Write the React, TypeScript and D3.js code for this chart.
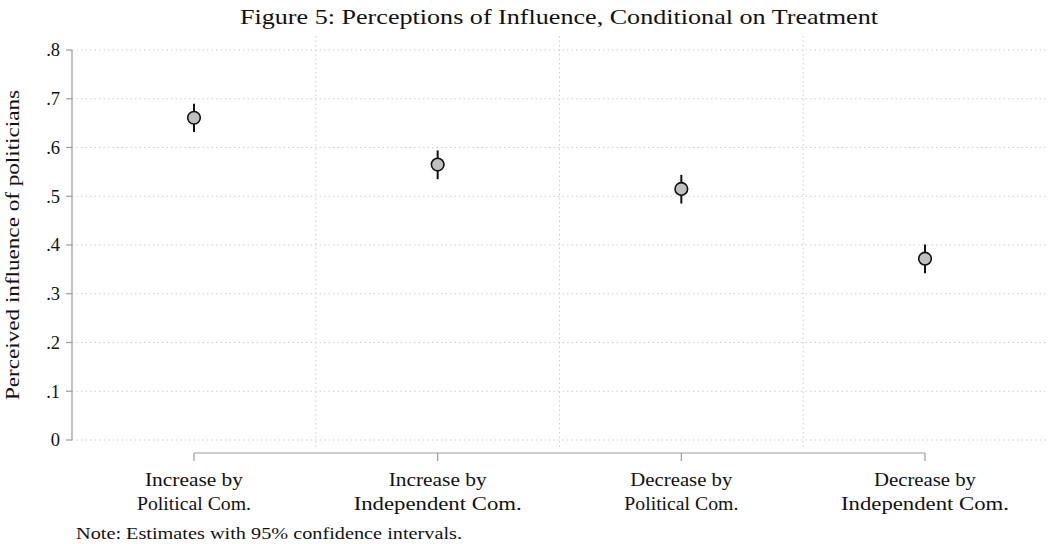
import * as d3 from "d3";
import React from "react";

const categories = [
  ["Increase by", "Political Com."],
  ["Increase by", "Independent Com."],
  ["Decrease by", "Political Com."],
  ["Decrease by", "Independent Com."],
];
const estimates = [0.661, 0.565, 0.515, 0.372];
const ciLow = [0.632, 0.535, 0.485, 0.342];
const ciHigh = [0.69, 0.594, 0.544, 0.401];
const yTicks = [0, 0.1, 0.2, 0.3, 0.4, 0.5, 0.6, 0.7, 0.8];

// widths of the text lines as they appear in the figure (Garamond-like face)
const lineWidths: Record<string, number> = {
  "Increase by": 98,
  "Decrease by": 102,
  "Political Com.": 114,
  "Independent Com.": 168,
};

const W = 1049,
  H = 544;
const font = "'Liberation Serif', 'DejaVu Serif', serif";

export default function App() {
  const keys = categories.map((c) => c.join(" "));

  const x = d3.scalePoint<string>().domain(keys).range([194, 925]);
  const y = d3.scaleLinear().domain([0, 0.8]).range([440, 50]);

  const tickFmt = (d: number) => (d === 0 ? "0" : d3.format(".1f")(d).replace(/^0/, ""));

  // vertical grid between categories
  const vGrid = keys.slice(0, -1).map((k, i) => ((x(k) as number) + (x(keys[i + 1]) as number)) / 2);

  return (
    <svg
      width={W}
      height={H}
      style={{ position: "absolute", left: 0, top: 0, background: "#fff" }}
      fontFamily={font}
    >
      <text
        x={559}
        y={24}
        textAnchor="middle"
        fontSize={21}
        fill="#111"
        textLength={638}
        lengthAdjust="spacingAndGlyphs"
      >
        Figure 5: Perceptions of Influence, Conditional on Treatment
      </text>

      {/* grid */}
      {yTicks.map((t) => (
        <line
          key={"h" + t}
          x1={72}
          x2={1047}
          y1={y(t)}
          y2={y(t)}
          stroke="#cfcfcf"
          strokeWidth={1}
          strokeDasharray="1.5,3"
        />
      ))}
      {vGrid.map((gx, i) => (
        <line
          key={"v" + i}
          x1={gx}
          x2={gx}
          y1={36}
          y2={448}
          stroke="#cfcfcf"
          strokeWidth={1}
          strokeDasharray="1.5,3"
        />
      ))}

      {/* y axis */}
      <line x1={72} x2={72} y1={y(0.8)} y2={y(0)} stroke="#9a9a9a" strokeWidth={1.2} />
      {yTicks.map((t) => (
        <g key={"yt" + t}>
          <line x1={66} x2={72} y1={y(t)} y2={y(t)} stroke="#9a9a9a" strokeWidth={1.2} />
          <text x={60} y={y(t)} dy="0.35em" textAnchor="end" fontSize={18.5} fill="#111">
            {tickFmt(t)}
          </text>
        </g>
      ))}
      <text
        transform={`translate(19, ${y(0.4)}) rotate(-90)`}
        textAnchor="middle"
        fontSize={18.5}
        fill="#111"
        textLength={310}
        lengthAdjust="spacingAndGlyphs"
      >
        Perceived influence of politicians
      </text>

      {/* x axis */}
      <line
        x1={x(keys[0])}
        x2={x(keys[keys.length - 1])}
        y1={453}
        y2={453}
        stroke="#9a9a9a"
        strokeWidth={1.2}
      />
      {categories.map((c, i) => (
        <g key={"xt" + i} transform={`translate(${x(keys[i])},0)`}>
          <line y1={453} y2={461} stroke="#9a9a9a" strokeWidth={1.2} />
          {c.map((s, j) => (
            <text
              key={j}
              y={486 + j * 24}
              textAnchor="middle"
              fontSize={18.5}
              fill="#111"
              textLength={lineWidths[s]}
              lengthAdjust="spacingAndGlyphs"
            >
              {s}
            </text>
          ))}
        </g>
      ))}

      {/* estimates */}
      {estimates.map((v, i) => (
        <g key={"p" + i}>
          <line
            x1={x(keys[i])}
            x2={x(keys[i])}
            y1={y(ciLow[i])}
            y2={y(ciHigh[i])}
            stroke="#111"
            strokeWidth={2}
          />
          <circle cx={x(keys[i])} cy={y(v)} r={6.3} fill="#c0c0c0" stroke="#111" strokeWidth={1.6} />
        </g>
      ))}

      <text
        x={76}
        y={539}
        fontSize={16.5}
        fill="#111"
        textLength={386}
        lengthAdjust="spacingAndGlyphs"
      >
        Note: Estimates with 95% confidence intervals.
      </text>
    </svg>
  );
}
